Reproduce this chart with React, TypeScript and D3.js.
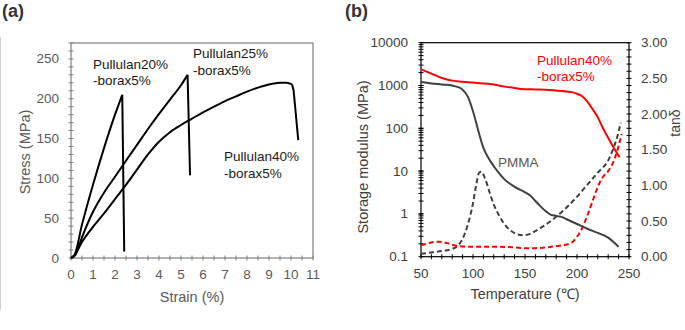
import React from 'react';
import * as d3 from 'd3';

// (a) tensile curves (last point = after fracture drop)
const strain20 = [0, 0.15, 0.5, 1, 1.5, 2, 2.33, 2.42];
const stress20 = [0, 3, 42, 92, 138, 180, 205, 8];
const strain25 = [0, 0.2, 0.5, 1, 1.5, 2, 2.42, 3, 3.5, 4, 4.5, 5, 5.3, 5.41];
const stress25 = [0, 4, 26, 58, 82, 102, 119, 142, 162, 181, 199, 217, 230, 104];
const strain40 = [0, 0.2, 0.5, 1, 1.5, 2, 2.42, 3, 3.5, 4, 4.5, 5, 5.5, 6, 6.5, 7, 7.5, 8, 8.5, 9, 9.5, 9.8, 10.05, 10.12, 10.33];
const stress40 = [0, 5, 20, 39, 56, 74, 89, 111, 130, 146, 158, 167, 175, 183, 190, 197, 203, 209, 214, 218, 220, 220, 218, 210, 148];
const strainTicks = [0, 1, 2, 3, 4, 5, 6, 7, 8, 9, 10, 11];
const stressTicks = [0, 50, 100, 150, 200, 250];

// (b) DMA curves
const tempPulE = [50, 60, 70, 80, 90, 100, 110, 120, 130, 140, 150, 160, 170, 180, 190, 195, 200, 205, 210, 215, 220, 225, 230, 235, 241];
const modPulE = [2400, 1900, 1500, 1300, 1220, 1180, 1120, 1050, 950, 870, 820, 810, 800, 760, 720, 700, 640, 560, 420, 280, 180, 100, 60, 36, 21];
const tempPmmaE = [50, 60, 70, 80, 85, 90, 95, 100, 105, 110, 115, 120, 125, 130, 140, 150, 155, 160, 165, 170, 175, 180, 185, 190, 200, 210, 220, 230, 240];
const modPmmaE = [1200, 1120, 1060, 1000, 930, 800, 550, 250, 90, 35, 20, 13, 9, 6.5, 4.3, 3.2, 2.7, 2.0, 1.5, 1.15, 0.95, 0.9, 0.85, 0.75, 0.58, 0.45, 0.36, 0.28, 0.17];
const tempPmmaTan = [50, 60, 70, 80, 85, 90, 95, 100, 103, 106, 108, 112, 116, 120, 125, 130, 135, 140, 148, 155, 160, 170, 180, 190, 200, 210, 220, 230, 235, 240, 242];
const tanPmma = [0.04, 0.06, 0.08, 0.11, 0.15, 0.25, 0.45, 0.75, 1.0, 1.18, 1.19, 1.08, 0.9, 0.73, 0.58, 0.46, 0.38, 0.33, 0.3, 0.32, 0.36, 0.45, 0.56, 0.69, 0.84, 1.01, 1.18, 1.35, 1.52, 1.75, 1.88];
const tempPulTan = [50, 55, 60, 67, 75, 85, 100, 120, 140, 150, 160, 170, 180, 190, 195, 200, 205, 210, 215, 220, 225, 230, 235, 240, 243];
const tanPul = [0.16, 0.18, 0.2, 0.21, 0.19, 0.15, 0.14, 0.14, 0.13, 0.12, 0.12, 0.13, 0.15, 0.17, 0.2, 0.28, 0.4, 0.58, 0.78, 0.98, 1.12, 1.2, 1.33, 1.55, 1.72];
const tempTicks = [50, 100, 150, 200, 250];
const modTicks = [0.1, 1, 10, 100, 1000, 10000];
const tanTicks = [0, 0.5, 1, 1.5, 2, 2.5, 3];

const FONT = 'Liberation Sans, Arial, sans-serif';

const zip = (xs: number[], ys: number[]) => xs.map((x, i) => [x, ys[i]] as [number, number]);

export default function App() {
  // panel a scales
  const xa = d3.scaleLinear().domain([0, 11]).range([71, 313]);
  const ya = d3.scaleLinear().domain([0, 270]).range([258, 43]);
  const lineSmooth = d3.line<[number, number]>().x(d => xa(d[0])).y(d => ya(d[1])).curve(d3.curveMonotoneX);
  const lineStraight = d3.line<[number, number]>().x(d => xa(d[0])).y(d => ya(d[1]));
  // smooth loading part, straight fracture drop
  const tensile = (xs: number[], ys: number[], nDrop: number) => {
    const pts = zip(xs, ys);
    const cut = pts.length - nDrop;
    return (lineSmooth(pts.slice(0, cut)) || '') + (lineStraight(pts.slice(cut - 1)) || '');
  };

  // panel b scales
  const xb = d3.scaleLinear().domain([50, 250]).range([421, 629]);
  const yb = d3.scaleLog().domain([0.1, 10000]).range([256.7, 42.7]);
  const yt = d3.scaleLinear().domain([0, 3]).range([256.7, 42.7]);
  const lineE = d3.line<[number, number]>().x(d => xb(d[0])).y(d => yb(d[1])).curve(d3.curveMonotoneX);
  const lineT = d3.line<[number, number]>().x(d => xb(d[0])).y(d => yt(d[1])).curve(d3.curveMonotoneX);

  const minorStrain = d3.range(0, 11.01, 0.5);
  const minorStress = d3.range(0, 271, 10);
  const minorTemp = d3.range(50, 251, 10);
  const minorTan = d3.range(0, 3.001, 0.1);
  const minorLog: number[] = [];
  [0.1, 1, 10, 100, 1000].forEach(b => { for (let k = 1; k <= 10; k++) minorLog.push(b * k); });

  const tickCol = '#595959';
  const axisCol = '#404040';

  return (
    <svg width={685} height={330} style={{ position: 'absolute', left: 0, top: 0, background: '#fff' }} fontFamily={FONT}>
      <rect x={0} y={0} width={685} height={330} fill="#fff" />
      <line x1={0.5} x2={0.5} y1={37} y2={310} stroke="#d0d0d0" strokeWidth={1} />

      {/* panel (a) */}
      <text x={2} y={17} fontSize={18} fontWeight="bold" fill="#333">(a)</text>
      <rect x={xa(0)} y={ya(270)} width={xa(11) - xa(0)} height={ya(0) - ya(270)} fill="none" stroke="#7f7f7f" strokeWidth={1.2} />
      {minorStrain.map(v => (
        <line key={'sx' + v} x1={xa(v)} x2={xa(v)} y1={ya(0) - 2.5} y2={ya(0) + 2.5} stroke="#7f7f7f" strokeWidth={1} />
      ))}
      {minorStress.map(v => (
        <line key={'sy' + v} x1={xa(0) - 2.5} x2={xa(0) + 2.5} y1={ya(v)} y2={ya(v)} stroke="#7f7f7f" strokeWidth={1} />
      ))}
      {strainTicks.map(v => (
        <text key={'tx' + v} x={xa(v)} y={279} fontSize={13.5} fill={tickCol} textAnchor="middle">{v}</text>
      ))}
      {stressTicks.map(v => (
        <text key={'ty' + v} x={59} y={ya(v) + 4.5} fontSize={13.5} fill={tickCol} textAnchor="end">{v}</text>
      ))}
      <text x={192} y={302} fontSize={14.5} fill={tickCol} textAnchor="middle">Strain (%)</text>
      <text transform="translate(30,152) rotate(-90)" fontSize={14.5} fill={tickCol} textAnchor="middle">Stress (MPa)</text>

      <path d={tensile(strain20, stress20, 1)} fill="none" stroke="#000" strokeWidth={2} strokeLinejoin="miter" />
      <path d={tensile(strain25, stress25, 1)} fill="none" stroke="#000" strokeWidth={2} strokeLinejoin="miter" />
      <path d={tensile(strain40, stress40, 2)} fill="none" stroke="#000" strokeWidth={2} strokeLinejoin="round" />

      <text x={93} y={69} fontSize={13.5} fill="#1a1a1a">Pullulan20%</text>
      <text x={93} y={85} fontSize={13.5} fill="#1a1a1a">-borax5%</text>
      <text x={193} y={58} fontSize={13.5} fill="#1a1a1a">Pullulan25%</text>
      <text x={193} y={75} fontSize={13.5} fill="#1a1a1a">-borax5%</text>
      <text x={224} y={161} fontSize={13.5} fill="#1a1a1a">Pullulan40%</text>
      <text x={224} y={178} fontSize={13.5} fill="#1a1a1a">-borax5%</text>

      {/* panel (b) */}
      <text x={345} y={17} fontSize={18} fontWeight="bold" fill="#333">(b)</text>
      <rect x={xb(50)} y={yb(10000)} width={xb(250) - xb(50)} height={yb(0.1) - yb(10000)} fill="none" stroke="#000" strokeWidth={1.2} />
      {minorTemp.map(v => (
        <line key={'bx' + v} x1={xb(v)} x2={xb(v)} y1={yb(0.1) - 2.5} y2={yb(0.1) + 2.5} stroke="#000" strokeWidth={1} />
      ))}
      {minorLog.map(v => (
        <line key={'by' + v} x1={xb(50) - 2.5} x2={xb(50) + 2.5} y1={yb(v)} y2={yb(v)} stroke="#000" strokeWidth={1} />
      ))}
      {minorTan.map(v => (
        <line key={'bt' + v} x1={xb(250) - 2.5} x2={xb(250) + 2.5} y1={yt(v)} y2={yt(v)} stroke="#000" strokeWidth={1} />
      ))}
      {tempTicks.map(v => (
        <text key={'tt' + v} x={xb(v)} y={278} fontSize={13.5} fill={axisCol} textAnchor="middle">{v}</text>
      ))}
      {modTicks.map(v => (
        <text key={'tm' + v} x={408} y={yb(v) + 4.5} fontSize={13.5} fill={axisCol} textAnchor="end">{String(v)}</text>
      ))}
      {tanTicks.map(v => (
        <text key={'tn' + v} x={641} y={yt(v) + 4.5} fontSize={13.5} fill={axisCol} textAnchor="start">{v.toFixed(2)}</text>
      ))}
      <text x={525} y={299} fontSize={14.5} fill={axisCol} textAnchor="middle">Temperature (℃)</text>
      <text transform="translate(368,157) rotate(-90)" fontSize={14.5} fill={axisCol} textAnchor="middle">Storage modulus (MPa)</text>
      <text transform="translate(680,123) rotate(-90)" fontSize={14} fill={axisCol} textAnchor="middle">tanδ</text>

      <path d={lineT(zip(tempPmmaTan, tanPmma)) || ''} fill="none" stroke="#404040" strokeWidth={2} strokeDasharray="5,3" />
      <path d={lineT(zip(tempPulTan, tanPul)) || ''} fill="none" stroke="#ff0000" strokeWidth={2} strokeDasharray="5,3" />
      <path d={lineE(zip(tempPmmaE, modPmmaE)) || ''} fill="none" stroke="#404040" strokeWidth={2} />
      <path d={lineE(zip(tempPulE, modPulE)) || ''} fill="none" stroke="#ff0000" strokeWidth={2} />

      <text x={537} y={65} fontSize={13.5} fill="#ff0000">Pullulan40%</text>
      <text x={537} y={81} fontSize={13.5} fill="#ff0000">-borax5%</text>
      <text x={498} y={167} fontSize={13.5} fill="#595959">PMMA</text>
    </svg>
  );
}
